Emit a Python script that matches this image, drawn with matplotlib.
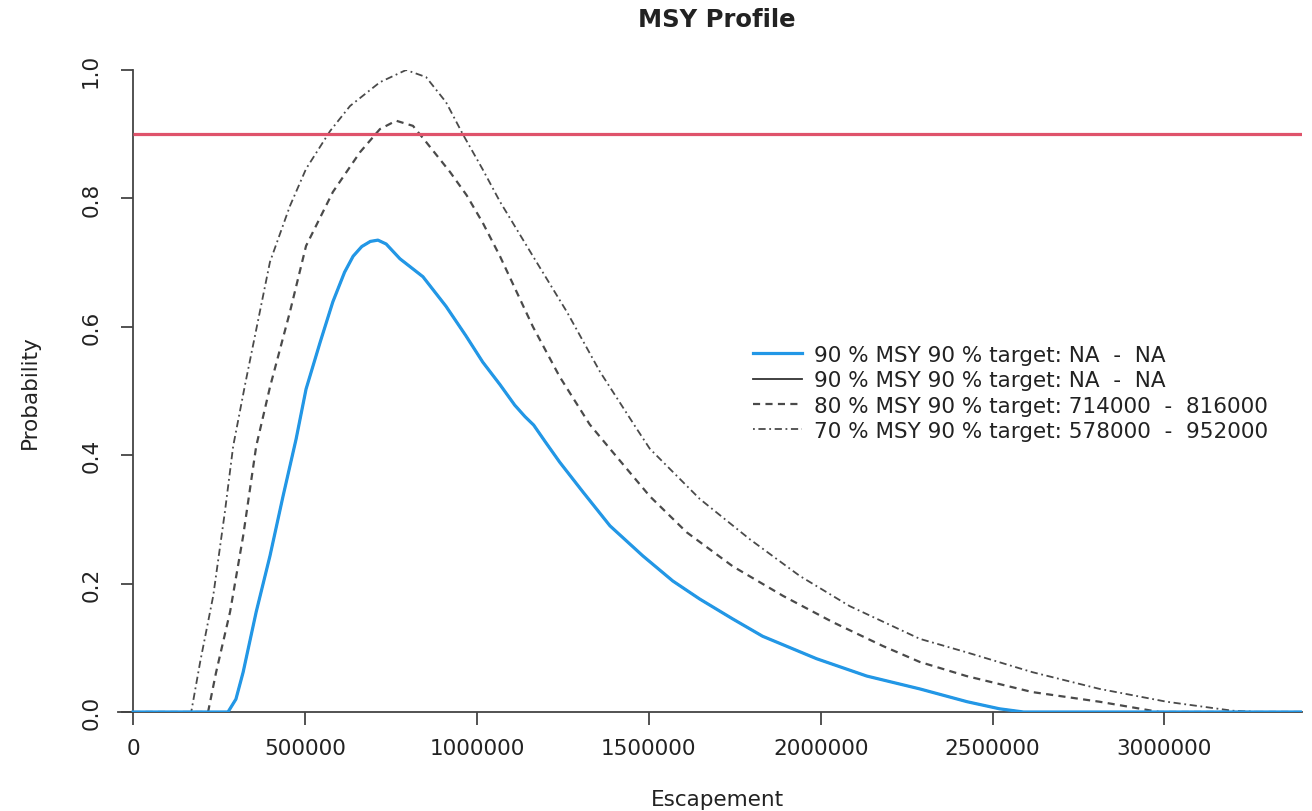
import matplotlib
matplotlib.use("Agg")
import matplotlib.pyplot as plt

# probability profiles
esc_90 = [0, 276000, 299000, 320000, 358000, 398000, 436000, 474000, 503000,
          544000, 581000, 615000, 640000, 665000, 690000, 712000, 736000, 776000,
          843000, 910000, 968000, 1017000, 1067000, 1110000, 1140000, 1165000,
          1200000, 1241000, 1308000, 1387000, 1483000, 1570000, 1648000, 1744000,
          1831000, 1988000, 2134000, 2288000, 2426000, 2520000, 2590000, 3400000]
prob_90 = [0, 0, 0.020, 0.062, 0.156, 0.243, 0.336, 0.425, 0.503,
           0.576, 0.639, 0.685, 0.710, 0.725, 0.733, 0.735, 0.729, 0.706,
           0.678, 0.632, 0.586, 0.545, 0.510, 0.478, 0.460, 0.447,
           0.420, 0.389, 0.343, 0.290, 0.243, 0.204, 0.176, 0.145,
           0.118, 0.083, 0.056, 0.036, 0.016, 0.005, 0, 0]

esc_80 = [0, 218000, 241000, 282000, 320000, 358000, 398000, 456000, 503000,
          581000, 660000, 718000, 765000, 814000, 852000, 922000, 970000,
          1017000, 1067000, 1115000, 1163000, 1241000, 1328000, 1387000, 1503000,
          1610000, 1744000, 1890000, 2035000, 2180000, 2288000, 2424000, 2616000,
          2811000, 2985000, 3400000]
prob_80 = [0, 0, 0.061, 0.156, 0.274, 0.414, 0.506, 0.623, 0.726,
           0.810, 0.872, 0.908, 0.921, 0.913, 0.888, 0.841, 0.805,
           0.762, 0.710, 0.655, 0.600, 0.522, 0.448, 0.410, 0.336,
           0.280, 0.227, 0.181, 0.140, 0.103, 0.078, 0.056, 0.031,
           0.016, 0, 0]

esc_70 = [0, 169000, 195000, 233000, 267000, 291000, 326000, 398000, 456000,
          503000, 573000, 631000, 718000, 794000, 852000, 910000, 959000,
          1017000, 1067000, 1163000, 1262000, 1358000, 1465000, 1503000,
          1648000, 1794000, 1939000, 2084000, 2288000, 2424000, 2616000,
          2811000, 3006000, 3198000, 3276000, 3400000]
prob_70 = [0, 0, 0.078, 0.181, 0.312, 0.414, 0.511, 0.701, 0.788,
           0.846, 0.905, 0.944, 0.981, 1.000, 0.989, 0.950, 0.900,
           0.845, 0.795, 0.710, 0.623, 0.530, 0.441, 0.410,
           0.332, 0.269, 0.212, 0.165, 0.114, 0.093, 0.062,
           0.036, 0.016, 0.002, 0, 0]

labels = ["90 % MSY 90 % target: NA  -  NA",
          "90 % MSY 90 % target: NA  -  NA",
          "80 % MSY 90 % target: 714000  -  816000",
          "70 % MSY 90 % target: 578000  -  952000"]
target_prob = 0.9

plt.rcParams['font.family'] = 'DejaVu Sans'
fig = plt.figure(figsize=(13.12, 8.12), dpi=100)
ax = fig.add_axes([118/1312, 1 - 713/812, 1184/1312, 642/812])

l_black, = ax.plot(esc_90, prob_90, color='#333333', lw=1.3, zorder=2)
l_blue, = ax.plot(esc_90, prob_90, color='#2297E6', lw=2.3, zorder=3)
l_dash, = ax.plot(esc_80, prob_80, color='#4a4a4a', lw=1.6, dashes=(3.2, 2.4))
l_dd, = ax.plot(esc_70, prob_70, color='#4a4a4a', lw=1.3, dashes=(1, 2, 4, 2))
ax.hlines(target_prob, 0, 3400000, color='#DF536B', lw=2.3, zorder=4)

ax.set_xlim(-44000, 3400000)
ax.set_ylim(0, 1)
ax.spines['top'].set_visible(False)
ax.spines['right'].set_visible(False)
ax.spines['left'].set_position(('data', 0))
ax.spines['left'].set_bounds(0, 1)
for s in ['left', 'bottom']:
    ax.spines[s].set_color('#444444')
    ax.spines[s].set_linewidth(1.3)

ax.set_xticks([0, 500000, 1000000, 1500000, 2000000, 2500000, 3000000])
ax.set_xticklabels(['0', '500000', '1000000', '1500000', '2000000', '2500000', '3000000'])
ax.set_yticks([0, 0.2, 0.4, 0.6, 0.8, 1.0])
ax.set_yticklabels(['0.0', '0.2', '0.4', '0.6', '0.8', '1.0'], rotation=90, va='center')
ax.tick_params(axis='both', direction='out', length=9, width=1.3, color='#444444',
               labelsize=15.5, labelcolor='#222222')
ax.tick_params(axis='x', pad=10)
ax.tick_params(axis='y', pad=14)

leg = ax.legend([l_blue, l_black, l_dash, l_dd], labels, loc='upper left',
                bbox_to_anchor=(742/1312, 1 - 335/812),
                bbox_transform=fig.transFigure, frameon=False, fontsize=15.5,
                handlelength=2.3, handletextpad=0.55, labelspacing=0.25, borderpad=0)
for t in leg.get_texts():
    t.set_color('#222222')

fig.text(717/1312, 1 - 20/812, 'MSY Profile', ha='center', va='center',
         fontsize=17.5, fontweight='bold', color='#222222')
fig.text(717/1312, 1 - 800/812, 'Escapement', ha='center', va='center',
         fontsize=15.5, color='#222222')
fig.text(30/1312, 1 - 392/812, 'Probability', ha='center', va='center',
         rotation=90, fontsize=15.5, color='#222222')

fig.savefig('out.png', dpi=100)
